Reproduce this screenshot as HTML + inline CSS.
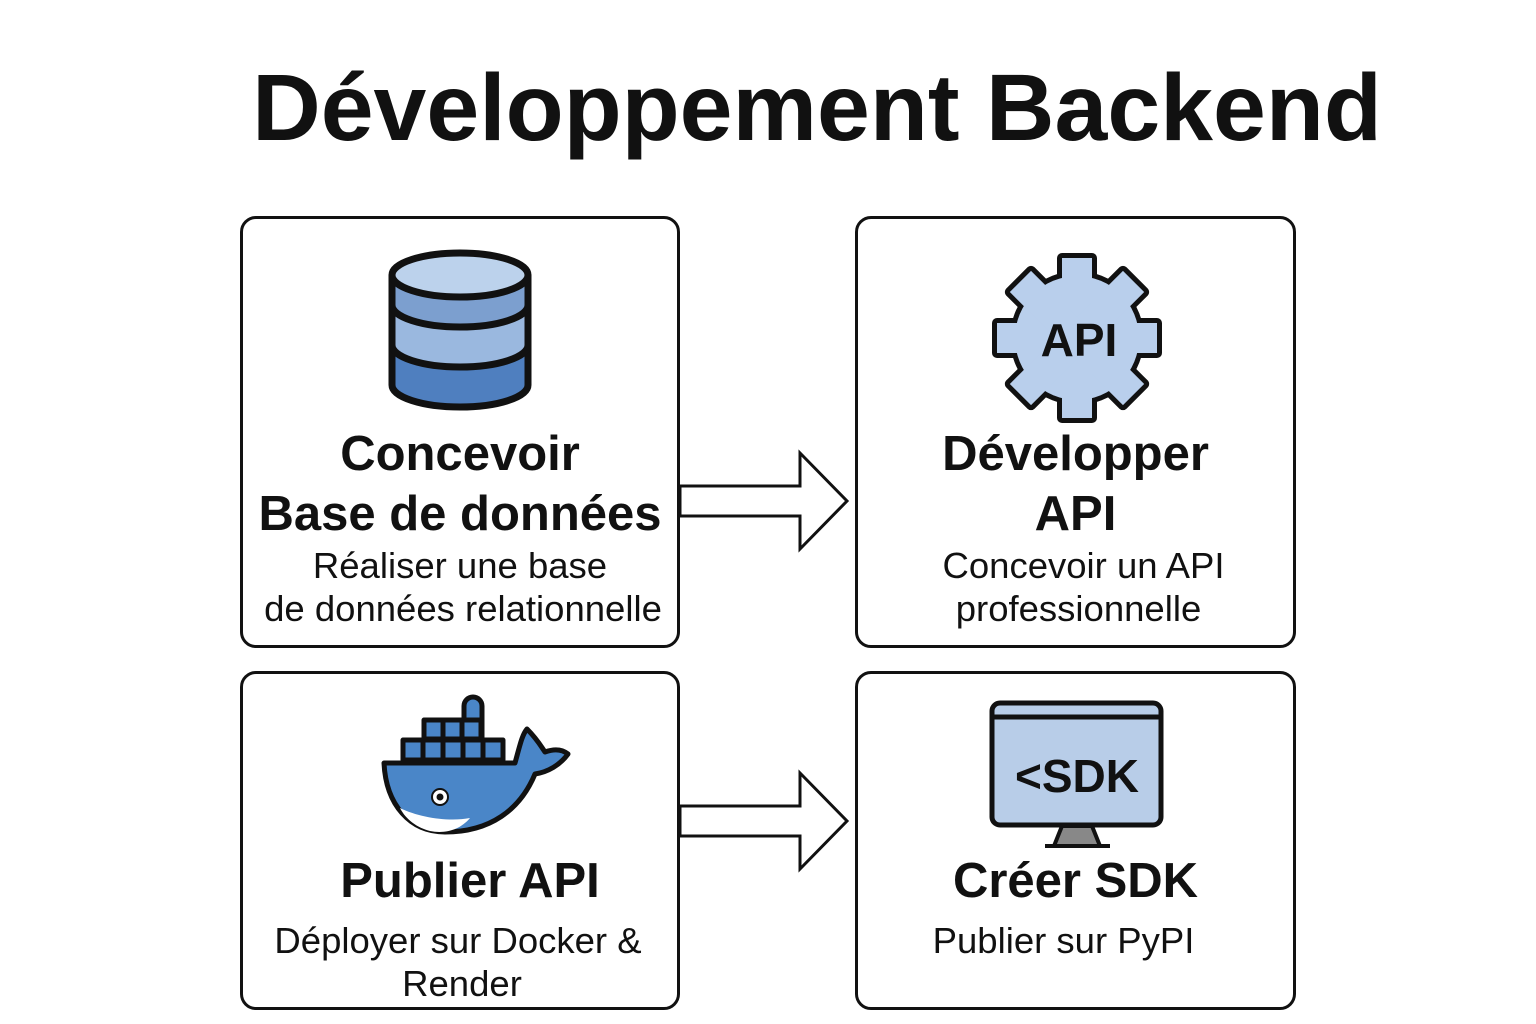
<!DOCTYPE html>
<html><head><meta charset="utf-8"><style>
html,body{margin:0;padding:0;background:#fff;}
body{width:1536px;height:1024px;position:relative;overflow:hidden;font-family:"Liberation Sans",sans-serif;color:#111;}
.box{position:absolute;border:3px solid #111;border-radius:16px;box-sizing:border-box;background:#fff;}
.t{position:absolute;left:0;width:100%;text-align:center;white-space:nowrap;}
.b{font-weight:bold;font-size:49px;}
.s{font-size:36.5px;}
</style></head><body>
<div class="t" style="top:54px;left:817px;width:0;"><div style="position:absolute;left:-700px;width:1400px;text-align:center;font-weight:bold;font-size:95px;">Développement Backend</div></div>

<div class="box" style="left:240px;top:216px;width:440px;height:432px;"></div>
<div class="box" style="left:855px;top:216px;width:441px;height:432px;"></div>
<div class="box" style="left:240px;top:671px;width:440px;height:339px;"></div>
<div class="box" style="left:855px;top:671px;width:441px;height:339px;"></div>

<svg width="1536" height="1024" style="position:absolute;left:0;top:0;">
  <polygon points="680,486 800,486 800,453 847,501 800,549 800,516 680,516" fill="#fff" stroke="#111" stroke-width="3" stroke-linejoin="miter"/>
  <polygon points="680,806 800,806 800,773 847,821 800,869 800,836 680,836" fill="#fff" stroke="#111" stroke-width="3"/>
  <g stroke="#111" stroke-width="7">
    <path d="M392,278 L392,385 A68,22 0 0 0 528,385 L528,278 Z" fill="#4f7fbf"/>
    <path d="M392,278 L392,345 A68,22 0 0 0 528,345 L528,278 Z" fill="#9ab8df"/>
    <path d="M392,278 L392,305 A68,22 0 0 0 528,305 L528,278 Z" fill="#7c9fcf"/>
    <ellipse cx="460" cy="275" rx="68" ry="22" fill="#bcd2ec"/>
  </g>
  <g transform="translate(1077,338)">
    <g stroke="#111" stroke-width="10" stroke-linejoin="round">
      <circle r="62"/>
      <rect x="-15" y="-80" width="30" height="80" transform="rotate(0)"/>
      <rect x="-15" y="-80" width="30" height="80" transform="rotate(45)"/>
      <rect x="-15" y="-80" width="30" height="80" transform="rotate(90)"/>
      <rect x="-15" y="-80" width="30" height="80" transform="rotate(135)"/>
      <rect x="-15" y="-80" width="30" height="80" transform="rotate(180)"/>
      <rect x="-15" y="-80" width="30" height="80" transform="rotate(225)"/>
      <rect x="-15" y="-80" width="30" height="80" transform="rotate(270)"/>
      <rect x="-15" y="-80" width="30" height="80" transform="rotate(315)"/>
    </g>
    <g fill="#b9cfec">
      <circle r="62"/>
      <rect x="-15" y="-80" width="30" height="80" transform="rotate(0)"/>
      <rect x="-15" y="-80" width="30" height="80" transform="rotate(45)"/>
      <rect x="-15" y="-80" width="30" height="80" transform="rotate(90)"/>
      <rect x="-15" y="-80" width="30" height="80" transform="rotate(135)"/>
      <rect x="-15" y="-80" width="30" height="80" transform="rotate(180)"/>
      <rect x="-15" y="-80" width="30" height="80" transform="rotate(225)"/>
      <rect x="-15" y="-80" width="30" height="80" transform="rotate(270)"/>
      <rect x="-15" y="-80" width="30" height="80" transform="rotate(315)"/>
    </g>
    <text x="2" y="18" text-anchor="middle" font-family="Liberation Sans" font-weight="bold" font-size="46" fill="#111">API</text>
  </g>
  <g stroke="#111" stroke-width="5" stroke-linejoin="round">
    <rect x="464" y="697" width="18" height="50" rx="9" fill="#4a86c8"/>
    <g fill="#4a86c8">
      <rect x="424" y="720" width="19" height="19"/><rect x="443" y="720" width="19" height="19"/><rect x="462" y="720" width="19" height="19"/>
      <rect x="403" y="740" width="20" height="20"/><rect x="423" y="740" width="20" height="20"/><rect x="443" y="740" width="20" height="20"/><rect x="463" y="740" width="20" height="20"/><rect x="483" y="740" width="20" height="20"/>
    </g>
    <path d="M384,763 L515,763 C520,745 522,735 527,729 C538,740 542,748 545,752 C556,748 563,750 568,754 C560,765 548,772 535,774 C520,810 490,832 445,832 C410,832 386,805 384,763 Z" fill="#4a86c8"/>
  </g>
  <path d="M400,808 C420,818 450,822 470,818 C460,830 445,834 430,831 C418,828 406,820 400,808 Z" fill="#fff"/>
  <circle cx="440" cy="797" r="8" fill="#fff" stroke="#111" stroke-width="2"/>
  <circle cx="440" cy="797" r="3.5" fill="#111"/>
  <polygon points="1062,826 1092,826 1100,846 1054,846" fill="#888" stroke="#111" stroke-width="4"/>
  <line x1="1045" y1="846" x2="1110" y2="846" stroke="#111" stroke-width="4"/>
  <rect x="992" y="703" width="169" height="122" rx="8" fill="#b8cde8" stroke="#111" stroke-width="5"/>
  <line x1="992" y1="717" x2="1161" y2="717" stroke="#111" stroke-width="5"/>
  <text x="1077" y="792" text-anchor="middle" font-family="Liberation Sans" font-weight="bold" font-size="46" fill="#111">&lt;SDK</text>
</svg>

<div class="t b" style="left:240px;width:440px;top:426px;">Concevoir</div>
<div class="t b" style="left:240px;width:440px;top:486px;">Base de données</div>
<div class="t s" style="left:240px;width:440px;top:545px;">Réaliser une base</div>
<div class="t s" style="left:243px;width:440px;top:588px;">de données relationnelle</div>

<div class="t b" style="left:855px;width:441px;top:426px;">Développer</div>
<div class="t b" style="left:855px;width:441px;top:486px;">API</div>
<div class="t s" style="left:863px;width:441px;top:545px;">Concevoir un API</div>
<div class="t s" style="left:858px;width:441px;top:588px;">professionnelle</div>

<div class="t b" style="left:250px;width:440px;top:853px;">Publier API</div>
<div class="t s" style="left:238px;width:440px;top:920px;">Déployer sur Docker &amp;</div>
<div class="t s" style="left:242px;width:440px;top:963px;">Render</div>

<div class="t b" style="left:855px;width:441px;top:853px;">Créer SDK</div>
<div class="t s" style="left:843px;width:441px;top:920px;">Publier sur PyPI</div>
</body></html>
